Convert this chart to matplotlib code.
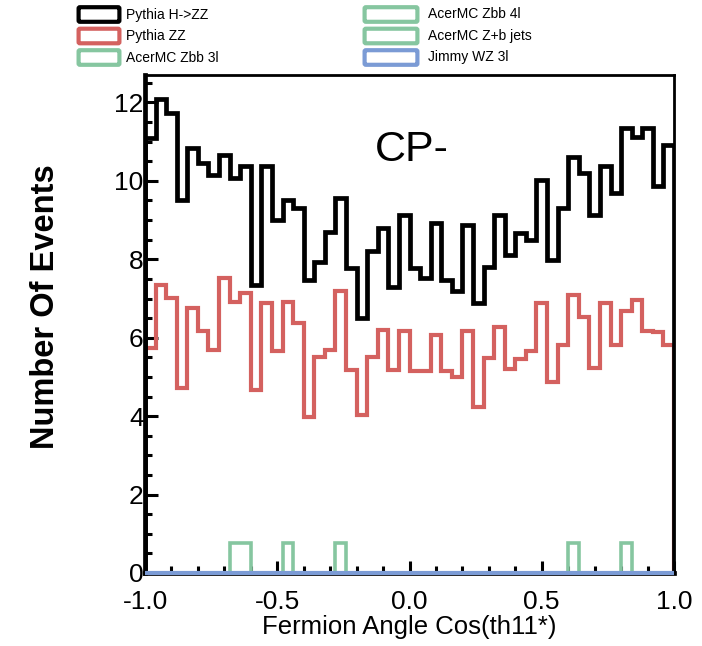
"""Fermion angle cos(th11*) distribution, CP- sample, with background histograms."""
import numpy as np
import matplotlib
matplotlib.use("Agg")
import matplotlib.pyplot as plt
from matplotlib.patches import FancyBboxPatch
from matplotlib.ticker import MultipleLocator, FormatStrFormatter

plt.rcParams["font.family"] = ["Liberation Sans", "DejaVu Sans"]

# 50 bins over [-1, 1]
x_range = (-1.0, 1.0)
n_bins = 50

pythia_hzz = [11.09, 12.10, 11.73, 9.50, 10.83, 10.45, 10.15, 10.66, 10.07, 10.37,
              7.35, 10.37, 9.00, 9.50, 9.30, 7.47, 7.94, 8.70, 9.56, 7.79,
              6.50, 8.20, 8.79, 7.30, 9.13, 7.77, 7.52, 8.92, 7.47, 7.18,
              8.88, 6.88, 7.81, 9.13, 8.11, 8.67, 8.49, 10.03, 7.98, 9.30,
              10.62, 10.20, 9.13, 10.37, 9.69, 11.34, 11.13, 11.34, 9.86, 10.92]

pythia_zz = [5.73, 7.35, 7.01, 4.71, 6.75, 6.16, 5.69, 7.52, 6.92, 7.13,
             4.67, 6.88, 5.65, 6.92, 6.37, 3.99, 5.52, 5.69, 7.18, 5.18,
             4.03, 5.52, 6.20, 5.18, 6.16, 5.14, 5.14, 6.07, 5.14, 5.00,
             6.16, 4.24, 5.48, 6.28, 5.20, 5.45, 5.67, 6.88, 4.88, 5.82,
             7.09, 6.52, 5.24, 6.88, 5.82, 6.67, 6.96, 6.18, 6.15, 5.82]

# sparse backgrounds: {bin index: weight}
acermc_zbb_3l = {}
acermc_zbb_4l = {8: 0.77, 9: 0.77, 40: 0.77}
acermc_zb_jets = {13: 0.77, 18: 0.77, 45: 0.77}
jimmy_wz_3l = {}

labels = ["Pythia H->ZZ", "Pythia ZZ", "AcerMC Zbb 3l",
          "AcerMC Zbb 4l", "AcerMC Z+b jets", "Jimmy WZ 3l"]

BLACK = "#000000"
RED = "#d4615f"
GREEN = "#86c6a0"
BLUE = "#7b9bd5"
colors = [BLACK, RED, GREEN, GREEN, GREEN, BLUE]


def dense(sparse):
    values = np.zeros(n_bins)
    for idx, w in sparse.items():
        values[idx] = w
    return values


edges = np.linspace(x_range[0], x_range[1], n_bins + 1)

fig = plt.figure(figsize=(7.02, 6.46), dpi=100)
ax = fig.add_axes([145 / 702, 1 - 573 / 646, (674 - 145) / 702, (573 - 75) / 646])

ax.stairs(pythia_hzz, edges, baseline=0, color=BLACK, linewidth=3.4, zorder=3)
ax.stairs(pythia_zz, edges, baseline=0, color=RED, linewidth=3.0, zorder=2)
ax.stairs(dense(acermc_zbb_3l), edges, baseline=0, color=GREEN, linewidth=2.6, zorder=2)
ax.stairs(dense(acermc_zbb_4l), edges, baseline=0, color=GREEN, linewidth=2.6, zorder=2)
ax.stairs(dense(acermc_zb_jets), edges, baseline=0, color=GREEN, linewidth=2.6, zorder=2)
ax.stairs(dense(jimmy_wz_3l), edges, baseline=0, color=BLUE, linewidth=3.0, zorder=4,
          clip_on=False)

ax.set_xlim(*x_range)
ax.set_ylim(0, 12.7)

ax.xaxis.set_major_locator(MultipleLocator(0.5))
ax.xaxis.set_minor_locator(MultipleLocator(0.1))
ax.yaxis.set_major_locator(MultipleLocator(2))
ax.yaxis.set_minor_locator(MultipleLocator(0.5))
ax.xaxis.set_major_formatter(FormatStrFormatter("%.1f"))

ax.tick_params(which="both", direction="in", top=False, right=False, width=2.2,
               labelsize=19)
ax.tick_params(which="major", length=9)
ax.tick_params(which="minor", length=5)
ax.tick_params(axis="y", pad=1)
ax.tick_params(axis="x", pad=12)

ax.spines["left"].set_linewidth(3.4)
ax.spines["bottom"].set_linewidth(3.4)
ax.spines["top"].set_linewidth(2.0)
ax.spines["right"].set_linewidth(2.0)

ax.set_xlabel("Fermion Angle Cos(th11*)", fontsize=18.5)
ax.xaxis.set_label_coords(0.5, -(627 - 573) / 498, transform=ax.transAxes)
ax.xaxis.label.set_va("center")
ax.set_ylabel("Number Of Events", fontsize=23.5, fontweight="bold")
ax.yaxis.set_label_coords(-(145 - 46) / 529, (573 - 307) / 498)
ax.yaxis.label.set_va("center")

ax.text(-0.13, 10.5, "CP-", fontsize=31)

# legend above the frame, two columns of three
col_x = [(80, 118, 126), (366, 416, 428)]
row_y = [14.5, 36, 57.5]
for i, (label, color) in enumerate(zip(labels, colors)):
    x0, x1, tx = col_x[i // 3]
    yc = row_y[i % 3]
    box = FancyBboxPatch((x0 / 702, 1 - (yc + 6) / 646), (x1 - x0) / 702, 12 / 646,
                         boxstyle="round,pad=0.002", transform=fig.transFigure,
                         facecolor="white", edgecolor=color, linewidth=3.0)
    fig.patches.append(box)
    fig.text(tx / 702, 1 - yc / 646, label, fontsize=10, va="center", ha="left")

fig.savefig("out.png", dpi=100)
